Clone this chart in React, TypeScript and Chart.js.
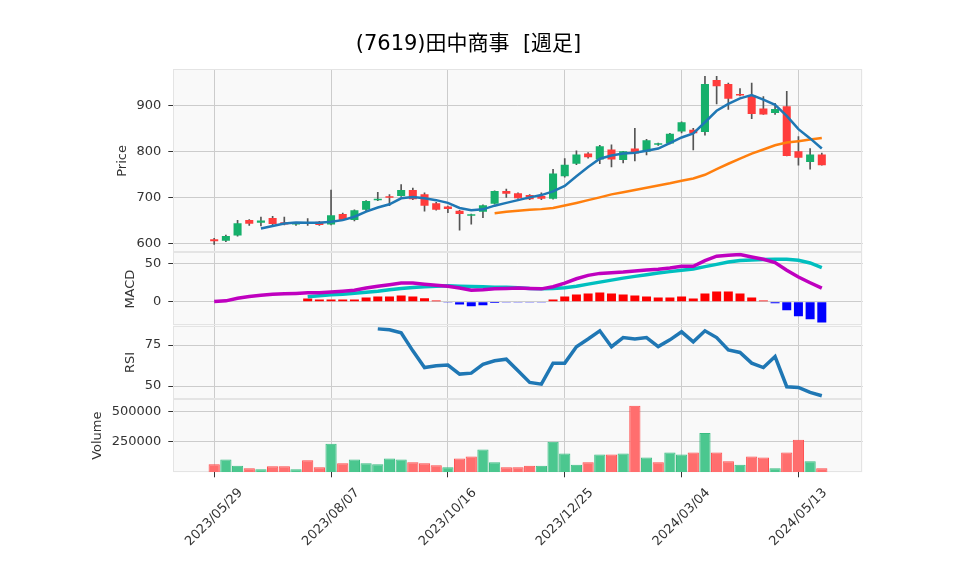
import { useEffect, useRef } from 'react';
import { Chart, registerables } from 'chart.js';

Chart.register(...registerables);

// ---- data ----
const dates = [
  '2023/05/29', '2023/06/05', '2023/06/12', '2023/06/19', '2023/06/26', '2023/07/03', '2023/07/10', '2023/07/17', '2023/07/24', '2023/07/31',
  '2023/08/07', '2023/08/14', '2023/08/21', '2023/08/28', '2023/09/04', '2023/09/11', '2023/09/18', '2023/09/25', '2023/10/02', '2023/10/09',
  '2023/10/16', '2023/10/23', '2023/10/30', '2023/11/06', '2023/11/13', '2023/11/20', '2023/11/27', '2023/12/04', '2023/12/11', '2023/12/18',
  '2023/12/25', '2024/01/01', '2024/01/08', '2024/01/15', '2024/01/22', '2024/01/29', '2024/02/05', '2024/02/12', '2024/02/19', '2024/02/26',
  '2024/03/04', '2024/03/11', '2024/03/18', '2024/03/25', '2024/04/01', '2024/04/08', '2024/04/15', '2024/04/22', '2024/04/29', '2024/05/06',
  '2024/05/13', '2024/05/20', '2024/05/27',
];

const opens = [
  609, 606, 617, 651, 645, 655, 646, 641, 645, 647,
  641, 664, 651, 673, 694, 702, 703, 716, 707, 687,
  680, 671, 660, 669, 686, 714, 709, 705, 703, 697,
  746, 773, 795, 782, 804, 781, 806, 799, 814, 817,
  843, 847, 842, 955, 946, 924, 921, 893, 883, 898,
  800, 777, 793,
];
const highs = [
  611, 618, 650, 652, 657, 659, 657, 646, 654, 648,
  716, 666, 673, 693, 711, 706, 728, 720, 710, 689,
  681, 672, 664, 684, 714, 718, 710, 706, 710, 761,
  784, 801, 797, 813, 814, 800, 850, 826, 818, 839,
  864, 850, 963, 963, 948, 936, 948, 919, 904, 930,
  832, 806, 796,
];
const lows = [
  598, 604, 616, 639, 638, 640, 640, 639, 639, 639,
  640, 650, 649, 671, 693, 682, 702, 695, 670, 672,
  667, 629, 642, 656, 685, 700, 698, 695, 695, 696,
  744, 771, 785, 773, 766, 775, 779, 792, 813, 816,
  840, 803, 835, 903, 891, 920, 871, 880, 880, 790,
  770, 761, 770,
];
const closes = [
  605, 616, 644, 643, 650, 642, 641, 645, 642, 640,
  661, 651, 672, 692, 697, 699, 716, 696, 682, 673,
  675, 664, 663, 683, 714, 708, 698, 696, 697, 752,
  771, 793, 787, 811, 782, 800, 795, 824, 817, 838,
  863, 839, 946, 941, 914, 921, 881, 880, 892, 790,
  786, 793, 770,
];

const ma5 = [
  null, null, null, null, 632.6, 638, 643.5, 645.6, 645, 645,
  647, 650.6, 658, 669, 678, 685, 698, 701, 698, 694,
  688, 677, 672, 674, 682, 688, 694, 700, 705, 713,
  725, 746, 766, 784, 791, 795, 797, 801, 806, 818,
  830, 839, 863, 888, 903, 915, 922, 912, 901, 877,
  848, 828, 806,
];
const ma25 = [
  null, null, null, null, null, null, null, null, null, null,
  null, null, null, null, null, null, null, null, null, null,
  null, null, null, null, 665.6, 669, 671, 673, 674.5, 677,
  682.5, 688, 694, 700, 706.5, 711, 716, 721, 726, 730.5,
  736, 741, 749, 761.5, 773, 784, 795, 804, 813, 819,
  822, 825.5, 829,
];

const macdLine = [
  0.4, 1.3, 4.8, 7, 8.7, 10, 10.5, 11, 11.8, 11.8,
  13, 14, 15.3, 18, 20.5, 22.4, 24.5, 24.5, 23, 21.8,
  20.5, 18, 15.3, 15.8, 17, 17.5, 18, 17.6, 17, 19.7,
  24.5, 30.2, 34.6, 37.2, 38.1, 39, 40.3, 41.6, 42.5, 44.2,
  46.4, 46.4, 53.9, 59.6, 60.9, 61.8, 58.7, 55.7, 51.3, 41.2,
  32.4, 25, 18,
];
const signalLine = [
  null, null, null, null, null, null, null, null, 6.6, 7.9,
  9.2, 10, 11.3, 12.6, 14, 15.8, 17.5, 18.8, 19.7, 20.5,
  21, 20.5, 20.1, 19.7, 19.2, 19, 18.4, 17.5, 17, 17.5,
  18.4, 20.5, 23.2, 25.8, 28.4, 31, 33.3, 35.5, 37.6, 39.5,
  41.2, 42.9, 46, 49, 52.1, 53.9, 54.7, 55.3, 55.7, 55.7,
  54.3, 50.8, 44.7,
];
const macdHist = [
  null, null, null, null, null, null, null, null, 4.4, 3.1,
  3.1, 3.1, 3.1, 5.7, 7, 7, 8.3, 7, 4.8, 1.8,
  -0.9, -3.5, -5.7, -4.4, -1.5, -0.7, -0.7, -0.7, -0.3, 3,
  7, 9.6, 11, 12.3, 11, 9.6, 8.3, 7, 5.7, 5.7,
  7, 4.4, 11, 13.6, 13.6, 11, 5.7, 1.8, -1.8, -11,
  -18.9, -22.8, -26.8,
];

const rsi = [
  null, null, null, null, null, null, null, null, null, null,
  null, null, null, null, 84.9, 84.3, 82.5, 71.5, 61.3, 62.4,
  62.8, 57.3, 57.9, 63.2, 65.4, 66.4, 59.3, 52.2, 51.2, 64,
  64, 74, 78.7, 83.7, 74, 79.6, 78.7, 79.6, 74.1, 78.2,
  83.1, 77, 83.7, 79.6, 72.1, 70.5, 64, 61.3, 68, 49.6,
  49.2, 46.1, 44.1,
];

const volumes = [
  66000, 106000, 53000, 34000, 26000, 50000, 50000, 26000, 98000, 42000,
  234000, 74000, 106000, 74000, 66000, 114000, 106000, 82000, 74000, 58000,
  42000, 114000, 130000, 186000, 82000, 42000, 42000, 53000, 53000, 250000,
  154000, 61000, 82000, 146000, 146000, 154000, 546000, 122000, 82000, 162000,
  146000, 162000, 322000, 162000, 90000, 61000, 130000, 122000, 34000, 162000,
  266000, 90000, 34000,
];

const xTickIndices = [0, 10, 20, 30, 40, 50];
const priceTicks = [600, 700, 800, 900];
const macdTicks = [0, 50];
const rsiTicks = [50, 75];
const volumeTicks = [250000, 500000];

const TITLE = '(7619)田中商事  [週足]';

// ---- styles ----
const FONT = '"DejaVu Sans", "Noto Sans CJK JP", sans-serif';
const UP = '#16b06b';
const DOWN = '#ff3c3c';
const WICK = '#555555';
const TEXT = '#333333';
const GRID = '#cccccc';
const FRAME = '#e4e4e4';

const idx = dates.map((_, i) => i);

function setTicks(values: number[]) {
  return (scale: any) => {
    scale.ticks = values.map((v) => ({ value: v }));
  };
}

const yBase = (min: number, max: number, ticks: number[], weight: number) => ({
  type: 'linear',
  position: 'left',
  stack: 'panels',
  stackWeight: weight,
  min,
  max,
  offset: false,
  afterBuildTicks: setTicks(ticks),
  afterFit: (s: any) => {
    s.width = 173.3;
  },
  border: { display: false },
  grid: { color: GRID, lineWidth: 1, tickColor: TEXT, tickLength: 5, drawTicks: true, offset: false },
  ticks: {
    color: TEXT,
    padding: 7,
    font: { family: FONT, size: 13 },
    callback: (v: any) => String(v),
  },
});

const panelPlugin = {
  id: 'panels',
  beforeDraw(chart: any) {
    const { ctx, chartArea } = chart;
    ctx.save();
    ctx.fillStyle = '#ffffff';
    ctx.fillRect(0, 0, chart.width, chart.height);
    ctx.fillStyle = '#f9f9f9';
    ctx.fillRect(chartArea.left, chartArea.top, chartArea.right - chartArea.left, chartArea.bottom - chartArea.top);
    ctx.restore();
  },
  beforeDatasetsDraw(chart: any) {
    const { ctx, chartArea } = chart;
    ctx.save();
    ctx.strokeStyle = FRAME;
    ctx.lineWidth = 1;
    for (const id of ['yPrice', 'yMacd', 'yRsi', 'yVol']) {
      const s = chart.scales[id];
      ctx.strokeRect(
        Math.round(chartArea.left) + 0.5,
        Math.round(s.top) + 0.5,
        Math.round(chartArea.right - chartArea.left) - 1,
        Math.round(s.bottom - s.top) - 1,
      );
    }
    ctx.restore();
  },
  afterDraw(chart: any) {
    const { ctx, chartArea } = chart;
    ctx.save();
    // title
    ctx.fillStyle = '#000000';
    ctx.font = `21px ${FONT}`;
    ctx.textAlign = 'center';
    ctx.textBaseline = 'middle';
    ctx.fillText(TITLE, 468.5, 45);

    // axis titles
    const axisTitles: [string, string, number[]][] = [
      ['yPrice', 'Price', priceTicks],
      ['yMacd', 'MACD', macdTicks],
      ['yRsi', 'RSI', rsiTicks],
      ['yVol', 'Volume', volumeTicks],
    ];
    ctx.font = `13px ${FONT}`;
    ctx.fillStyle = TEXT;
    for (const [id, label, ticks] of axisTitles) {
      const s = chart.scales[id];
      const w = Math.max(...ticks.map((t) => ctx.measureText(String(t)).width));
      const x = chartArea.left - 5 - 7 - w - 14;
      const y = (s.top + s.bottom) / 2;
      ctx.save();
      ctx.translate(x, y);
      ctx.rotate(-Math.PI / 2);
      ctx.textAlign = 'center';
      ctx.textBaseline = 'middle';
      ctx.fillText(label, 0, 0);
      ctx.restore();
    }

    // x tick labels, rotated 45 and centred on tick
    const xs = chart.scales.x;
    for (const i of xTickIndices) {
      const px = xs.getPixelForValue(i);
      ctx.save();
      ctx.translate(px, chartArea.bottom + 45);
      ctx.rotate(-Math.PI / 4);
      ctx.textAlign = 'center';
      ctx.textBaseline = 'middle';
      ctx.fillText(dates[i], 0, 0);
      ctx.restore();
    }
    ctx.restore();
  },
};

export default function App() {
  const ref = useRef<HTMLCanvasElement | null>(null);

  useEffect(() => {
    const canvas = ref.current;
    if (!canvas) return;

    const candleColors = idx.map((i) => (closes[i] >= opens[i] ? UP : DOWN));
    const volUp = idx.map((i) => (i === 0 ? closes[0] >= opens[0] : closes[i] >= closes[i - 1]));

    const chart = new Chart(canvas, {
      type: 'bar',
      data: {
        datasets: [
          {
            type: 'line',
            label: 'MA5',
            data: idx.map((i) => ({ x: i, y: ma5[i] })),
            yAxisID: 'yPrice',
            borderColor: '#1f77b4',
            borderWidth: 2.5,
            pointRadius: 0,
            tension: 0,
            order: 1,
          },
          {
            type: 'line',
            label: 'MA25',
            data: idx.map((i) => ({ x: i, y: ma25[i] })),
            yAxisID: 'yPrice',
            borderColor: '#ff7f0e',
            borderWidth: 2.5,
            pointRadius: 0,
            tension: 0,
            order: 2,
          },
          {
            type: 'bar',
            label: 'body',
            data: idx.map((i) => ({ x: i, y: [opens[i], closes[i]] })),
            yAxisID: 'yPrice',
            backgroundColor: candleColors,
            barPercentage: 0.69,
            categoryPercentage: 1,
            grouped: false,
            minBarLength: 1.5,
            order: 3,
          },
          {
            type: 'bar',
            label: 'wick',
            data: idx.map((i) => ({ x: i, y: [lows[i], highs[i]] })),
            yAxisID: 'yPrice',
            backgroundColor: WICK,
            barThickness: 1,
            grouped: false,
            order: 4,
          },
          {
            type: 'line',
            label: 'MACD',
            data: idx.map((i) => ({ x: i, y: macdLine[i] })),
            yAxisID: 'yMacd',
            borderColor: '#bf00bf',
            borderWidth: 3.5,
            pointRadius: 0,
            tension: 0,
            order: 5,
          },
          {
            type: 'line',
            label: 'Signal',
            data: idx.map((i) => ({ x: i, y: signalLine[i] })),
            yAxisID: 'yMacd',
            borderColor: '#00bfbf',
            borderWidth: 3.5,
            pointRadius: 0,
            tension: 0,
            order: 6,
          },
          {
            type: 'bar',
            label: 'Hist',
            data: idx.map((i) => ({ x: i, y: macdHist[i] })),
            yAxisID: 'yMacd',
            backgroundColor: idx.map((i) => ((macdHist[i] ?? 0) >= 0 ? '#ff0000' : '#0000ff')),
            barPercentage: 0.77,
            categoryPercentage: 1,
            grouped: false,
            order: 7,
          },
          {
            type: 'line',
            label: 'RSI',
            data: idx.map((i) => ({ x: i, y: rsi[i] })),
            yAxisID: 'yRsi',
            borderColor: '#1f77b4',
            borderWidth: 3.5,
            pointRadius: 0,
            tension: 0,
            order: 8,
          },
          {
            type: 'bar',
            label: 'Volume',
            data: idx.map((i) => ({ x: i, y: volumes[i] })),
            yAxisID: 'yVol',
            backgroundColor: volUp.map((u) => (u ? '#4bc78f' : '#ff6e6e')),
            borderColor: volUp.map((u) => (u ? '#3bbd82' : '#ff4d4d')),
            borderWidth: 1,
            barPercentage: 0.96,
            categoryPercentage: 1,
            grouped: false,
            order: 9,
          },
        ],
      },
      options: {
        responsive: false,
        animation: false,
        devicePixelRatio: 1,
        events: [],
        layout: { padding: { left: 0, top: 69.3, right: 95.3, bottom: 0 } },
        plugins: {
          legend: { display: false },
          title: { display: false },
          tooltip: { enabled: false },
        },
        scales: {
          x: {
            type: 'linear',
            position: 'bottom',
            min: -3.5,
            max: 55.5,
            offset: false,
            afterBuildTicks: setTicks(xTickIndices),
            afterFit: (s: any) => {
              s.height = 102.7;
            },
            border: { display: false },
            grid: { color: GRID, lineWidth: 1, tickColor: TEXT, tickLength: 5, drawTicks: true, offset: false },
            ticks: { display: false },
          },
          yVol: yBase(0, 601000, volumeTicks, 1),
          yRsi: yBase(42.1, 86.8, rsiTicks, 1),
          yMacd: yBase(-31.2, 64.5, macdTicks, 1),
          yPrice: yBase(580.4, 978, priceTicks, 2.5),
        } as any,
      },
      plugins: [panelPlugin],
    } as any);

    return () => chart.destroy();
  }, []);

  return (
    <div style={{ position: 'absolute', left: 0, top: 0, width: 958, height: 575, background: '#ffffff' }}>
      <canvas ref={ref} width={958} height={575} style={{ display: 'block', width: 958, height: 575 }} />
    </div>
  );
}
